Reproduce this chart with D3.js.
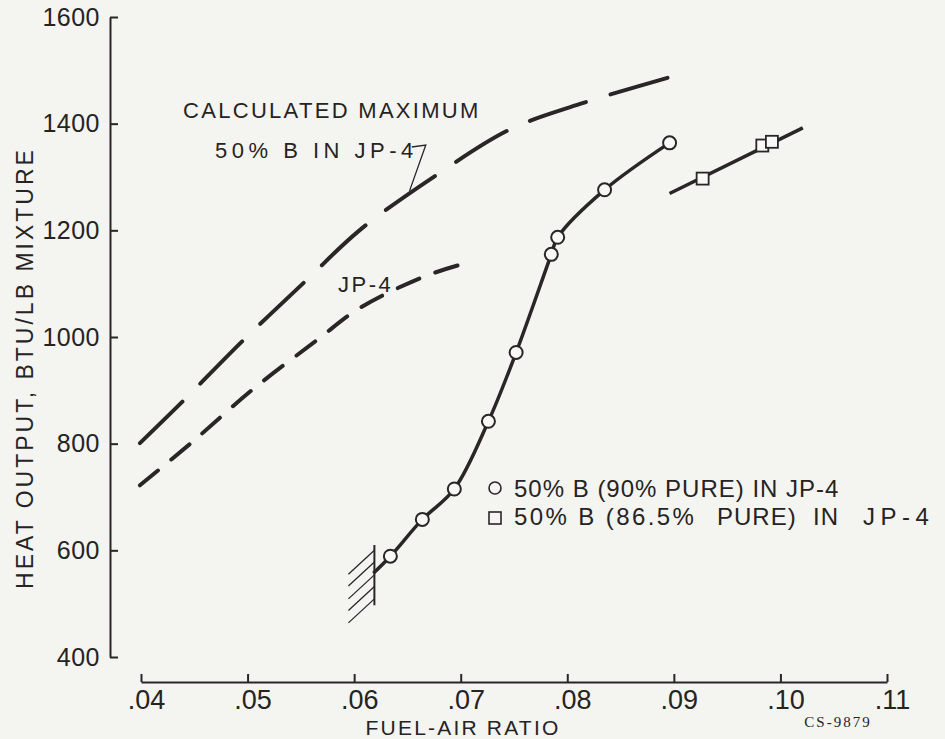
<!DOCTYPE html>
<html>
<head>
<meta charset="utf-8">
<script src="https://cdn.jsdelivr.net/npm/d3@7"></script>
<style>
  body { margin: 0; background: #f4f4f1; }
  svg { display: block; }
  text { fill: #262323; font-family: "Liberation Sans", Arial, sans-serif; }
</style>
</head>
<body>
<svg id="chart" width="945" height="739"></svg>
<script>
// ticks
var xTicks = [0.04, 0.05, 0.06, 0.07, 0.08, 0.09, 0.10, 0.11];
var xTickLabels = [".04", ".05", ".06", ".07", ".08", ".09", ".10", ".11"];
var yTicks = [400, 600, 800, 1000, 1200, 1400, 1600];

// calculated maximum, 50% B in JP-4 (long dashes)
var calcMaxX = [0.0399, 0.0439, 0.0495, 0.0556, 0.0605, 0.0679, 0.0746, 0.0812, 0.0894];
var calcMaxY = [801, 879, 992, 1108, 1200, 1306, 1389, 1437, 1486];

// JP-4 (short dashes)
var jp4X = [0.0399, 0.0448, 0.0505, 0.0565, 0.0605, 0.0664, 0.0697];
var jp4Y = [722, 803, 902, 994, 1054, 1112, 1134];

// 50% B (90% pure) in JP-4, circles + faired curve
var pure90X = [0.0634, 0.0664, 0.0694, 0.0726, 0.0752, 0.0785, 0.0791, 0.0835, 0.0896];
var pure90Y = [589, 658, 715, 842, 971, 1155, 1187, 1276, 1364];
var curve90X = [0.0618, 0.0634, 0.0664, 0.0694, 0.0726, 0.0752, 0.0785, 0.0791, 0.0835, 0.0896];
var curve90Y = [557, 589, 658, 715, 842, 971, 1155, 1187, 1276, 1364];

// 50% B (86.5% pure) in JP-4, squares + line
var pure865X = [0.0927, 0.0983, 0.0992];
var pure865Y = [1297, 1359, 1366];
var line865X = [0.0896, 0.1021];
var line865Y = [1269, 1392];

// lean limit mark
var limitX = 0.0619;
var limitY = [497, 610];
var hatchY = [600, 578, 554, 532, 509];

var ink = "#2a2626";
var svg = d3.select("#chart");

var x = d3.scaleLinear().domain([0.04, 0.11]).range([141, 887]);
var y = d3.scaleLinear().domain([400, 1600]).range([657, 17]);

var zip = function(xs, ys) { return xs.map(function(v, i) { return [v, ys[i]]; }); };

// y axis
var yAxis = svg.append("g")
    .attr("transform", "translate(110,0)")
    .call(d3.axisLeft(y).tickValues(yTicks).tickSize(-8).tickSizeOuter(0).tickPadding(10)
        .tickFormat(d3.format("d")));
yAxis.selectAll("path, line").attr("stroke", ink).attr("stroke-width", 2);
yAxis.selectAll("text").attr("font-size", 25).attr("fill", ink).attr("letter-spacing", 0.5)
    .style("font-family", "'Liberation Sans', Arial, sans-serif");

// x axis
var xAxis = svg.append("g")
    .attr("transform", "translate(0,682)")
    .call(d3.axisBottom(x).tickValues(xTicks).tickSize(-8).tickSizeOuter(0).tickPadding(8)
        .tickFormat(function(d, i) { return xTickLabels[i]; }));
xAxis.selectAll("path, line").attr("stroke", ink).attr("stroke-width", 2);
xAxis.selectAll("text").attr("font-size", 27).attr("fill", ink)
    .attr("dx", 5)
    .style("font-family", "'Liberation Sans', Arial, sans-serif");

// axis titles
svg.append("text")
    .attr("transform", "translate(33,368) rotate(-90)")
    .attr("text-anchor", "middle")
    .attr("font-size", 23)
    .attr("letter-spacing", 3)
    .text("HEAT OUTPUT, BTU/LB MIXTURE");
svg.append("text")
    .attr("x", 463).attr("y", 735)
    .attr("text-anchor", "middle")
    .attr("font-size", 21)
    .attr("letter-spacing", 2.2)
    .text("FUEL-AIR RATIO");
svg.append("text")
    .attr("x", 838).attr("y", 727)
    .attr("text-anchor", "middle")
    .attr("font-size", 15)
    .attr("letter-spacing", 2)
    .style("font-family", "'Liberation Serif', serif")
    .text("CS-9879");

var smooth = d3.line().x(function(d) { return x(d[0]); }).y(function(d) { return y(d[1]); })
    .curve(d3.curveCatmullRom.alpha(0.5));
var straight = d3.line().x(function(d) { return x(d[0]); }).y(function(d) { return y(d[1]); });

// dashes fitted so both ends of the curve finish on a dash
var fitDash = function(path, dash, gap) {
    var len = path.node().getTotalLength();
    var n = Math.max(1, Math.round((len - dash) / (dash + gap)));
    var k = len / (n * (dash + gap) + dash);
    path.attr("stroke-dasharray", (dash * k) + "," + (gap * k));
};

var calcPath = svg.append("path")
    .attr("d", smooth(zip(calcMaxX, calcMaxY)))
    .attr("fill", "none").attr("stroke", ink).attr("stroke-width", 4)
    .attr("stroke-linecap", "round");
fitDash(calcPath, 56, 24);
var jpPath = svg.append("path")
    .attr("d", smooth(zip(jp4X, jp4Y)))
    .attr("fill", "none").attr("stroke", ink).attr("stroke-width", 4)
    .attr("stroke-linecap", "round");
fitDash(jpPath, 23, 17);

// solid curves
svg.append("path")
    .attr("d", smooth(zip(curve90X, curve90Y)))
    .attr("fill", "none").attr("stroke", ink).attr("stroke-width", 3.5);
svg.append("path")
    .attr("d", straight(zip(line865X, line865Y)))
    .attr("fill", "none").attr("stroke", ink).attr("stroke-width", 3.5);

// limit line with hatching
svg.append("line")
    .attr("x1", x(limitX)).attr("x2", x(limitX))
    .attr("y1", y(limitY[0])).attr("y2", y(limitY[1]))
    .attr("stroke", ink).attr("stroke-width", 2);
svg.selectAll(".hatch").data(hatchY).enter().append("line")
    .attr("class", "hatch")
    .attr("x1", x(limitX)).attr("y1", function(d) { return y(d); })
    .attr("x2", x(limitX) - 26).attr("y2", function(d) { return y(d) + 24; })
    .attr("stroke", ink).attr("stroke-width", 1.3);

// markers
svg.selectAll(".c90").data(zip(pure90X, pure90Y)).enter().append("circle")
    .attr("class", "c90")
    .attr("cx", function(d) { return x(d[0]); })
    .attr("cy", function(d) { return y(d[1]); })
    .attr("r", 6.5)
    .attr("fill", "#f8f8f6").attr("stroke", ink).attr("stroke-width", 2);
svg.selectAll(".s865").data(zip(pure865X, pure865Y)).enter().append("rect")
    .attr("class", "s865")
    .attr("x", function(d) { return x(d[0]) - 6; })
    .attr("y", function(d) { return y(d[1]) - 6; })
    .attr("width", 12).attr("height", 12)
    .attr("fill", "#f8f8f6").attr("stroke", ink).attr("stroke-width", 1.8);

// annotations
svg.append("text").attr("x", 183).attr("y", 118).attr("font-size", 22)
    .attr("letter-spacing", 2.3)
    .text("CALCULATED MAXIMUM");
var lbl = svg.append("text").attr("x", 215).attr("y", 158).attr("font-size", 22)
    .attr("letter-spacing", 4.5)
    .text("50% B IN JP-4");
var lblEnd = 215 + lbl.node().getComputedTextLength() - 4;
var target = [0.0652, 1274];
svg.append("path")
    .attr("d", "M" + (lblEnd - 2) + ",147 L" + (lblEnd + 12) + ",145 L" + x(target[0]) + "," + y(target[1]))
    .attr("fill", "none").attr("stroke", ink).attr("stroke-width", 1.3);
svg.append("text").attr("x", 338).attr("y", 292).attr("font-size", 22)
    .attr("letter-spacing", 2.5)
    .text("JP-4");

// legend
var legend = svg.append("g");
legend.append("circle").attr("cx", 495).attr("cy", 488).attr("r", 6)
    .attr("fill", "none").attr("stroke", ink).attr("stroke-width", 1.6);
legend.append("text").attr("x", 514).attr("y", 497).attr("font-size", 24)
    .attr("letter-spacing", 1)
    .text("50% B (90% PURE) IN JP-4");
legend.append("rect").attr("x", 489).attr("y", 512).attr("width", 12).attr("height", 12)
    .attr("fill", "none").attr("stroke", ink).attr("stroke-width", 1.6);
var row2 = legend.append("text").attr("y", 525).attr("font-size", 24).attr("letter-spacing", 1);
row2.append("tspan").attr("x", 514).attr("letter-spacing", 2.4).text("50% B (86.5%");
row2.append("tspan").attr("x", 717).text("PURE)");
row2.append("tspan").attr("x", 813).text("IN");
row2.append("tspan").attr("x", 863).attr("letter-spacing", 5.5).text("JP-4");
</script>
</body>
</html>
